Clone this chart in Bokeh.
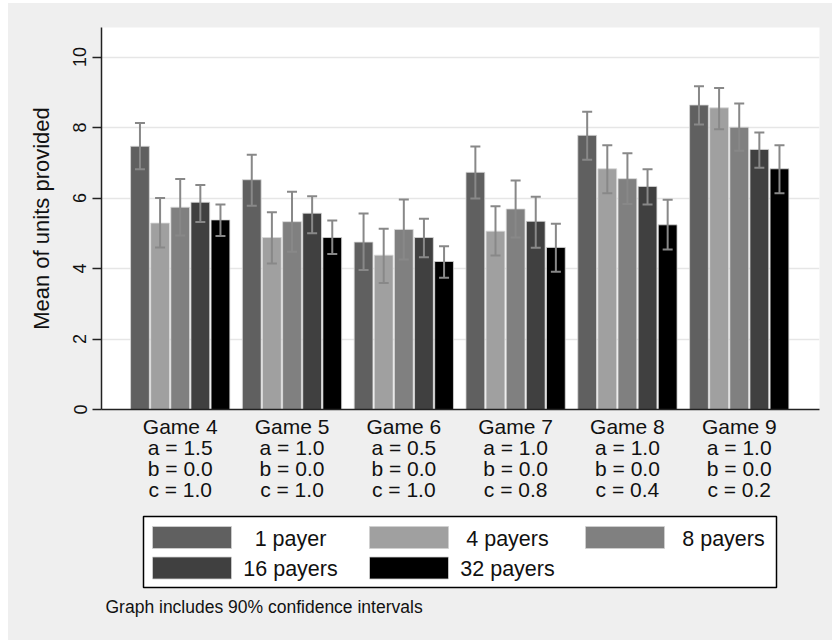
from bokeh.plotting import figure
from bokeh.layouts import column
from bokeh.models import (ColumnDataSource, Range1d, FixedTicker, Whisker, TeeHead)
from bokeh.core.properties import value
from bokeh.embed import file_html
from bokeh.resources import INLINE

# ---- data -----------------------------------------------------------------
games = ["Game 4", "Game 5", "Game 6", "Game 7", "Game 8", "Game 9"]
param_a = ["1.5", "1.0", "0.5", "1.0", "1.0", "1.0"]
param_b = ["0.0", "0.0", "0.0", "0.0", "0.0", "0.0"]
param_c = ["1.0", "1.0", "1.0", "0.8", "0.4", "0.2"]

series = ["1 payer", "4 payers", "8 payers", "16 payers", "32 payers"]
colors = ["#606060", "#a0a0a0", "#808080", "#404040", "#000000"]

# mean units provided, one list per group size (Game 4 .. Game 9)
mean_1 = [7.47, 6.52, 4.75, 6.73, 7.78, 8.64]
mean_4 = [5.29, 4.88, 4.38, 5.06, 6.83, 8.56]
mean_8 = [5.74, 5.33, 5.11, 5.69, 6.55, 8.01]
mean_16 = [5.88, 5.57, 4.88, 5.34, 6.33, 7.38]
mean_32 = [5.38, 4.88, 4.20, 4.60, 5.24, 6.83]

# 90% confidence interval bounds
lo_1 = [6.82, 5.78, 3.96, 5.99, 7.09, 8.09]
hi_1 = [8.13, 7.23, 5.56, 7.46, 8.45, 9.17]
lo_4 = [4.60, 4.14, 3.59, 4.37, 6.14, 7.95]
hi_4 = [6.00, 5.60, 5.13, 5.77, 7.50, 9.12]
lo_8 = [4.94, 4.48, 4.26, 4.88, 5.83, 7.34]
hi_8 = [6.54, 6.18, 5.96, 6.50, 7.27, 8.68]
lo_16 = [5.32, 5.00, 4.32, 4.59, 5.82, 6.86]
hi_16 = [6.37, 6.05, 5.41, 6.04, 6.82, 7.86]
lo_32 = [4.92, 4.41, 3.74, 3.91, 4.54, 6.14]
hi_32 = [5.82, 5.36, 4.63, 5.27, 5.95, 7.50]

y_ticks = [0, 2, 4, 6, 8, 10]
note = "Graph includes 90% confidence intervals"

means = [mean_1, mean_4, mean_8, mean_16, mean_32]
lows = [lo_1, lo_4, lo_8, lo_16, lo_32]
highs = [hi_1, hi_4, hi_8, hi_16, hi_32]

FONT_NAME = "Liberation Sans"
FONT = value(FONT_NAME)
BG = "#efefef"

# shared horizontal borders so both panels line up
B_LEFT, B_RIGHT, FRAME_W = 93, 13, 718

# ---- main bar chart -------------------------------------------------------
p = figure(width=824, height=502, frame_width=FRAME_W, frame_height=382,
           x_range=Range1d(-0.704, 5.718), y_range=Range1d(0, 10.84),
           output_backend="svg", toolbar_location=None,
           min_border_left=B_LEFT, min_border_right=B_RIGHT, min_border_top=24,
           min_border_bottom=96)
p.background_fill_color = "white"
p.border_fill_color = BG
p.outline_line_color = None

step = 0.18
bar_w = 0.168
group_x = list(range(len(games)))
for k, name in enumerate(series):
    xs = [g + (k - 2) * step for g in group_x]
    src = ColumnDataSource(dict(x=xs, top=means[k], lower=lows[k], upper=highs[k]))
    p.vbar(x="x", top="top", bottom=0, width=bar_w, source=src,
           fill_color=colors[k], line_color="#d8d8d8", line_width=0.8)
    w = Whisker(base="x", lower="lower", upper="upper", source=src,
                line_color="#888888", line_width=2, level="overlay",
                upper_head=TeeHead(size=10, line_color="#888888", line_width=2),
                lower_head=TeeHead(size=10, line_color="#888888", line_width=2))
    p.add_layout(w)

# axes
p.xgrid.visible = False
p.ygrid.grid_line_color = "#e6e6e6"
p.ygrid.grid_line_width = 1.5
p.ygrid.ticker = FixedTicker(ticks=y_ticks)

p.yaxis.ticker = FixedTicker(ticks=y_ticks)
p.yaxis.axis_label = "Mean of units provided"
p.yaxis.axis_label_text_font = FONT_NAME
p.yaxis.axis_label_text_font_size = "22px"
p.yaxis.axis_label_text_font_style = "normal"
p.yaxis.axis_label_text_color = "#111111"
p.yaxis.axis_label_standoff = 17
p.yaxis.major_label_orientation = "vertical"
p.yaxis.major_label_text_font = FONT_NAME
p.yaxis.major_label_text_font_size = "18px"
p.yaxis.major_label_text_color = "#111111"
p.yaxis.major_label_standoff = 6
p.yaxis.major_tick_out = 9
p.yaxis.major_tick_in = 0
p.yaxis.minor_tick_out = 0
p.yaxis.minor_tick_in = 0
p.yaxis.axis_line_color = "#222222"
p.yaxis.axis_line_width = 1.5
p.yaxis.major_tick_line_color = "#222222"
p.yaxis.major_tick_line_width = 1.5

p.xaxis.ticker = FixedTicker(ticks=group_x)
p.xaxis.major_label_overrides = {
    i: f"{games[i]}\na = {param_a[i]}\nb = {param_b[i]}\nc = {param_c[i]}"
    for i in group_x
}
p.xaxis.major_label_text_font = FONT_NAME
p.xaxis.major_label_text_font_size = "21px"
p.xaxis.major_label_text_line_height = 0.92
p.xaxis.major_label_text_color = "#111111"
p.xaxis.major_label_standoff = 5
p.xaxis.major_tick_out = 0
p.xaxis.major_tick_in = 0
p.xaxis.minor_tick_out = 0
p.xaxis.minor_tick_in = 0
p.xaxis.axis_line_color = "#222222"
p.xaxis.axis_line_width = 1.5

# ---- legend and note panel (data coordinates = page pixels) ---------------
frame_left = 8 + B_LEFT
leg = figure(width=824, height=135, frame_width=FRAME_W, frame_height=135,
             x_range=Range1d(frame_left, frame_left + FRAME_W),
             y_range=Range1d(640, 505),
             output_backend="svg", toolbar_location=None,
             min_border_left=B_LEFT, min_border_right=B_RIGHT,
             min_border_top=0, min_border_bottom=0)
leg.axis.visible = False
leg.grid.visible = False
leg.outline_line_color = None
leg.background_fill_color = BG
leg.border_fill_color = BG

leg.quad(left=[143], right=[776], top=[516], bottom=[587],
         fill_color="white", line_color="black", line_width=1.5)

col_x = [152, 369, 585]
row_y = [537, 567.5]
sw_x, sw_y, sw_c, tx_x, tx_y, tx_s = [], [], [], [], [], []
for k, name in enumerate(series):
    r, c = divmod(k, 3)
    sw_x.append(col_x[c] + 39.5)
    sw_y.append(row_y[r])
    sw_c.append(colors[k])
    tx_x.append(col_x[c] + 138)
    tx_y.append(row_y[r] + 1)
    tx_s.append(name)
leg.rect(x=sw_x, y=sw_y, width=79, height=22, fill_color=sw_c,
         line_color="#d0d0d0", line_width=0.8)
leg.text(x=tx_x, y=tx_y, text=tx_s, text_font=FONT, text_font_size="21.5px",
         text_align="center", text_baseline="middle", text_color="#111111")
leg.text(x=[105], y=[606], text=[note], text_font=FONT, text_font_size="17.5px",
         text_align="left", text_baseline="middle", text_color="#111111")

layout = column(p, leg, spacing=0, margin=(3, 0, 0, 8), background=BG)
open("out.html", "w").write(file_html(layout, INLINE))
